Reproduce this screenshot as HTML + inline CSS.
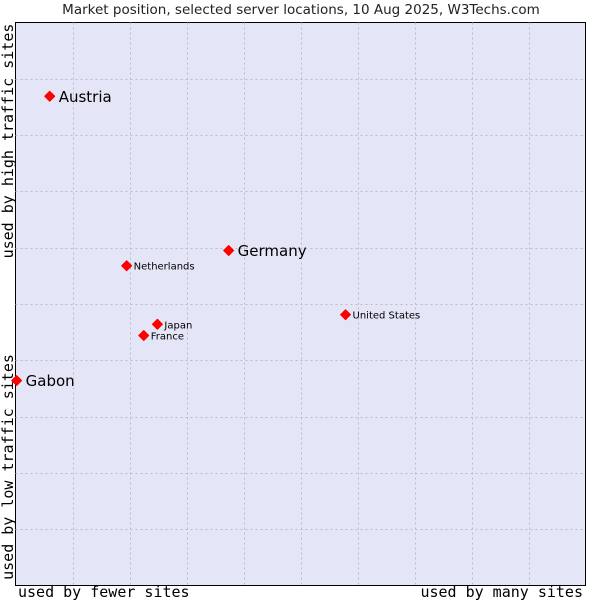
<!DOCTYPE html>
<html><head><meta charset="utf-8"><style>
body{margin:0;background:#fff;}
svg{display:block;}
</style></head><body>
<svg id="chart" width="600" height="600" xmlns="http://www.w3.org/2000/svg">
<text x="301" y="14" text-anchor="middle" font-family="DejaVu Sans, sans-serif" font-size="13.5" fill="#222">Market position, selected server locations, 10 Aug 2025, W3Techs.com</text>
<rect x="15.5" y="22.5" width="570" height="563" fill="#e4e6f8" stroke="#000" stroke-width="1"/>
<g id="grid"></g>
<g id="points"></g>
<text transform="translate(13,141) rotate(-90)" text-anchor="middle" font-family="DejaVu Sans Mono, Liberation Mono, monospace" font-size="15" fill="#000">used by high traffic sites</text>
<text transform="translate(13,467) rotate(-90)" text-anchor="middle" font-family="DejaVu Sans Mono, Liberation Mono, monospace" font-size="15" fill="#000">used by low traffic sites</text>
<text x="18" y="597" font-family="DejaVu Sans Mono, Liberation Mono, monospace" font-size="15" fill="#000">used by fewer sites</text>
<text x="583" y="597" text-anchor="end" font-family="DejaVu Sans Mono, Liberation Mono, monospace" font-size="15" fill="#000">used by many sites</text>
</svg>
<script>
const names=["Austria","Germany","Netherlands","United States","Japan","France","Gabon"];
const xVals=[6.0,37.4,19.5,57.9,24.9,22.5,0.2];
const yVals=[86.9,59.5,56.8,48.1,46.4,44.4,36.4];
const big=[true,true,false,false,false,false,true];
const X0=15.5,X1=585.5,Y0=585.5,Y1=22.5;
function sx(v){return X0+(X1-X0)*v/100;}
function sy(v){return Y0-(Y0-Y1)*v/100;}
const NS="http://www.w3.org/2000/svg";
const grid=document.getElementById('grid');
for(let i=1;i<10;i++){
 const v=document.createElementNS(NS,'line');
 
 
 const gx=Math.round(sx(i*10))+0.5;
 v.setAttribute('x1',gx);v.setAttribute('x2',gx);v.setAttribute('y1',Y1);v.setAttribute('y2',Y0);
 v.setAttribute('stroke','#bdbdbd');v.setAttribute('stroke-dasharray','2,3');
 grid.appendChild(v);
 const h=document.createElementNS(NS,'line');
 
 
 const gy=Math.round(sy(i*10))+0.5;
 h.setAttribute('y1',gy);h.setAttribute('y2',gy);h.setAttribute('x1',X0);h.setAttribute('x2',X1);
 h.setAttribute('stroke','#bdbdbd');h.setAttribute('stroke-dasharray','2,3');
 grid.appendChild(h);
}
const pts=document.getElementById('points');
for(let i=0;i<names.length;i++){
 const px=sx(xVals[i]),py=sy(yVals[i]);
 const d=document.createElementNS(NS,'path');
 
 
 d.setAttribute('d',`M${px-5},${py} L${px},${py-5} L${px+5},${py} L${px},${py+5} Z`);
 d.setAttribute('fill','#ff0000');
 d.setAttribute('stroke','#ff0000');
 d.setAttribute('stroke-width','1');
 d.setAttribute('stroke-linejoin','round');
 pts.appendChild(d);
 const t=document.createElementNS(NS,'text');
 
 
 t.setAttribute('x',px+(big[i]?9:7));
 t.setAttribute('y',py+(big[i]?5.5:4));
 t.setAttribute('font-family','DejaVu Sans, sans-serif');
 t.setAttribute('font-size',big[i]?15:10);
 t.setAttribute('fill','#000');
 t.textContent=names[i];
 pts.appendChild(t);
}
</script>
</body></html>
